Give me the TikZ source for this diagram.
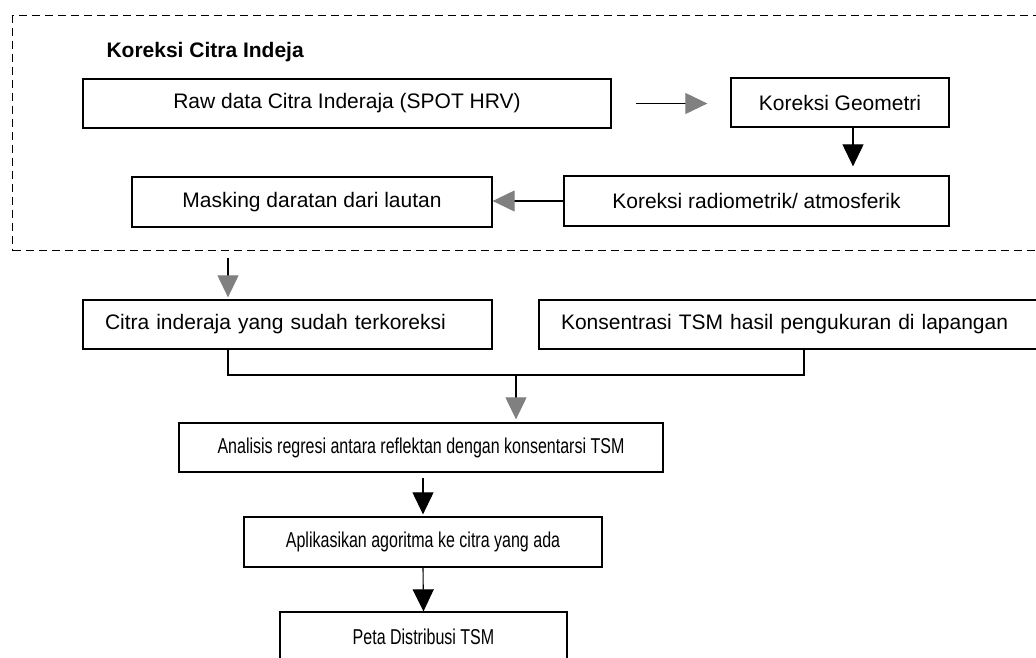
\documentclass[tikz,border=0pt]{standalone}
\usepackage{fontspec}
\setmainfont{Liberation Sans}
\newfontfamily\narrowsans[FakeStretch=0.745]{Liberation Sans}
\usetikzlibrary{arrows.meta}

\begin{document}
\begin{tikzpicture}[x=1pt,y=-1pt,
  font=\fontsize{21}{25}\selectfont,
  box/.style={draw,line width=1.3pt,inner sep=0pt,minimum height=49pt},
  leftbox/.style={box,inner xsep=22pt,align=left},
  narrowbox/.style={box,font=\narrowsans\fontsize{21.5}{25}\selectfont},
  greyhead/.style={line width=1.1pt,-{Triangle[length=22pt,width=21pt,color=gray]}},
  blackhead/.style={line width=1.1pt,-{Triangle[length=22pt,width=21pt]}}]
  \useasboundingbox (0,0) rectangle (1036,657);
  \clip (0,0) rectangle (1036,657);
  % group frame
  \node[draw,line width=1.3pt,dash pattern=on 8pt off 5pt,minimum width=1040pt,minimum height=235pt,anchor=north west] (frame) at (12,15) {};
  \node[anchor=west,font=\fontsize{21}{25}\selectfont\bfseries] (title) at (103,52) {Koreksi Citra Indeja};
  \node[box,minimum width=528pt] (raw) at (347,103.5) {Raw data Citra Inderaja (SPOT HRV)};
  \node[box,minimum width=218pt] (geom) at (840,102.5) {Koreksi Geometri};
  \node[box,minimum width=385pt,minimum height=50pt] (radio) at (756.5,201) {Koreksi radiometrik/ atmosferik};
  \node[box,minimum width=360pt,minimum height=50pt] (mask) at (312,202) {Masking daratan dari lautan};
  % outside the frame
  \node[leftbox,text width=365pt] (citra) at (287.5,324.5) {Citra inderaja yang sudah terkoreksi};
  \node[leftbox,text width=458pt] (kons) at (790,324.5) {Konsentrasi TSM hasil pengukuran di lapangan};
  \node[narrowbox,minimum width=484pt] (ana) at (421,447.5) {Analisis regresi antara reflektan dengan konsentarsi TSM};
  \node[narrowbox,minimum width=358pt,minimum height=50pt] (aplik) at (423,542) {Aplikasikan agoritma ke citra yang ada};
  \node[narrowbox,minimum width=287pt,minimum height=50pt] (peta) at (423.5,637) {Peta Distribusi TSM};
  \coordinate (out) at (228,258);
  \coordinate (join) at (516,375);
  % connectors
  \draw[greyhead,shorten <=24pt,shorten >=23pt] (raw) -- (raw -| geom.west);
  \draw[blackhead,shorten >=9pt] ([xshift=13pt]geom.south) -- ([xshift=13pt]geom.south |- radio.north);
  \draw[greyhead] (radio.west) -- (radio.west -| mask.east);
  \draw[greyhead,shorten >=2pt] (out) -- (out |- citra.north);
  \draw[line width=1.1pt] ([xshift=-59.5pt]citra.south) |- (join) -| ([xshift=14pt]kons.south);
  \draw[greyhead,shorten >=3pt] (join) -- (join |- ana.north);
  \draw[blackhead,shorten <=5pt,shorten >=2pt] (aplik.north |- ana.south) -- (aplik.north);
  \draw[blackhead] (aplik.south) -- (peta.north);
\end{tikzpicture}
\end{document}
